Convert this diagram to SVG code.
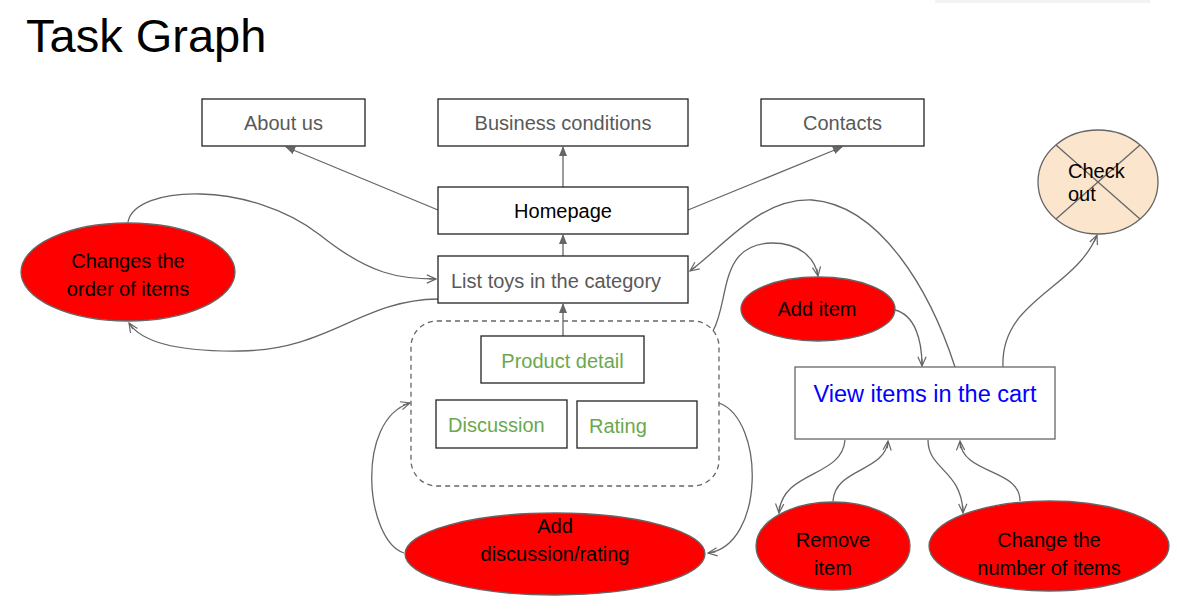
<svg xmlns="http://www.w3.org/2000/svg" width="1177" height="615" viewBox="0 0 1177 615">
<defs>
<style>
.box{fill:#fff;stroke:#222;stroke-width:1.3}
.t{font-family:"Liberation Sans",Arial,sans-serif;font-size:20px}
.g{fill:#595959}
.gr{fill:#6aa84f}
.red{fill:#ff0000;stroke:#666;stroke-width:1.3}
.c{fill:none;stroke:#666;stroke-width:1.3}
</style>
<marker id="fa" viewBox="0 0 10 10" refX="9" refY="5" markerWidth="10" markerHeight="10" markerUnits="userSpaceOnUse" orient="auto">
<path d="M0,1 L10,5 L0,9 Z" fill="#666"/>
</marker>
<marker id="oa" viewBox="0 0 12 12" refX="11" refY="6" markerWidth="11" markerHeight="11" markerUnits="userSpaceOnUse" orient="auto">
<path d="M1,1.5 L11,6 L1,10.5 M11,6 L3,6" fill="none" stroke="#666" stroke-width="1.3"/>
</marker>
</defs>
<rect width="1177" height="615" fill="#fff"/>
<rect x="935" y="0" width="215" height="3" fill="#f3f3f3"/>
<text x="26" y="52" font-family="'Liberation Sans',Arial,sans-serif" font-size="47" fill="#000">Task Graph</text>

<g id="connectors">
<line class="c" x1="438" y1="210" x2="286" y2="147" marker-end="url(#fa)"/>
<line class="c" x1="563" y1="187" x2="563" y2="147" marker-end="url(#fa)"/>
<line class="c" x1="688" y1="210" x2="842" y2="147" marker-end="url(#fa)"/>
<line class="c" x1="563" y1="256" x2="563" y2="235" marker-end="url(#fa)"/>
<line class="c" x1="563" y1="336" x2="563" y2="304" marker-end="url(#fa)"/>
<path class="c" d="M128,222 C135,185 250,180 320,235 C370,275 400,279 436,279" marker-end="url(#oa)"/>
<path class="c" d="M438,299 C360,300 330,350 240,351 C170,352 140,340 129,323" marker-end="url(#oa)"/>
<path class="c" d="M404,553 C365,540 355,420 410,403" marker-end="url(#oa)"/>
<path class="c" d="M719,403 C765,420 765,545 708,553" marker-end="url(#oa)"/>
<path class="c" d="M713,331 C730,300 718,244 772,243 C800,243 815,258 818,276" marker-end="url(#oa)"/>
<path class="c" d="M895,310 C915,315 922,340 922,366" marker-end="url(#oa)"/>
<path class="c" d="M955,367 C930,290 880,205 812,200 C760,198 725,245 690,271" marker-end="url(#oa)"/>
<path class="c" d="M1003,367 C1000,300 1075,290 1097,235" marker-end="url(#oa)"/>
<path class="c" d="M845,440 C842,478 782,470 779,513" marker-end="url(#oa)"/>
<path class="c" d="M833,501 C835,468 885,472 888,441" marker-end="url(#oa)"/>
<path class="c" d="M928,440 C928,470 962,470 963,513" marker-end="url(#oa)"/>
<path class="c" d="M1020,501 C1020,468 962,475 960,441" marker-end="url(#oa)"/>
</g>

<g id="about"><rect class="box" x="202" y="99" width="163" height="47"/><text class="t g" x="283.5" y="130" text-anchor="middle">About us</text></g>
<g id="business"><rect class="box" x="438" y="99" width="250" height="47"/><text class="t g" x="563" y="130" text-anchor="middle">Business conditions</text></g>
<g id="contacts"><rect class="box" x="761" y="99" width="163" height="47"/><text class="t g" x="842.5" y="130" text-anchor="middle">Contacts</text></g>
<g id="homepage"><rect class="box" x="438" y="187" width="250" height="47"/><text class="t" x="563" y="218" text-anchor="middle" fill="#000">Homepage</text></g>
<g id="list"><rect class="box" x="438" y="256" width="250" height="47"/><text class="t g" x="451" y="288">List toys in the category</text></g>
<g id="product-group">
<rect x="411" y="321" width="308" height="165" rx="26" fill="none" stroke="#666" stroke-width="1.3" stroke-dasharray="5,4"/>
<g id="product"><rect class="box" x="481" y="336" width="163" height="47"/><text class="t gr" x="562.5" y="368" text-anchor="middle">Product detail</text></g>
<g id="discussion"><rect class="box" x="436" y="400" width="131" height="48"/><text class="t gr" x="448" y="432">Discussion</text></g>
<g id="rating"><rect class="box" x="577" y="401" width="120" height="47"/><text class="t gr" x="589" y="433">Rating</text></g>
</g>
<g id="changes"><ellipse class="red" cx="128" cy="272" rx="107" ry="49"/><text class="t" x="128" y="268" text-anchor="middle" fill="#000">Changes the</text><text class="t" x="128" y="296" text-anchor="middle" fill="#000">order of items</text></g>
<g id="additem"><ellipse class="red" cx="818" cy="309" rx="77" ry="32"/><text class="t" x="817" y="316" text-anchor="middle" fill="#000">Add item</text></g>
<g id="cart"><rect x="795" y="367" width="260" height="72" fill="#fff" stroke="#666" stroke-width="1.3"/><text x="925" y="402" text-anchor="middle" font-family="'Liberation Sans',Arial,sans-serif" font-size="23.5" fill="#0000ff">View items in the cart</text></g>
<g id="checkout"><ellipse cx="1098" cy="182" rx="60" ry="52" fill="#fce5cd" stroke="#666" stroke-width="1.3"/>
<line x1="1056" y1="145" x2="1140" y2="219" stroke="#666" stroke-width="1.3"/><line x1="1140" y1="145" x2="1056" y2="219" stroke="#666" stroke-width="1.3"/>
<text class="t" x="1068" y="178" fill="#000">Check</text><text class="t" x="1068" y="201" fill="#000">out</text></g>
<g id="remove"><ellipse class="red" cx="833" cy="546" rx="77" ry="44"/><text class="t" x="833" y="547" text-anchor="middle" fill="#000">Remove</text><text class="t" x="833" y="575" text-anchor="middle" fill="#000">item</text></g>
<g id="changenum"><ellipse class="red" cx="1049" cy="546" rx="120" ry="45"/><text class="t" x="1049" y="547" text-anchor="middle" fill="#000">Change the</text><text class="t" x="1049" y="575" text-anchor="middle" fill="#000">number of items</text></g>
<g id="adddisc"><ellipse class="red" cx="555" cy="554" rx="150" ry="41"/><text class="t" x="555" y="533" text-anchor="middle" fill="#000">Add</text><text class="t" x="555" y="561" text-anchor="middle" fill="#000">discussion/rating</text></g>
</svg>
